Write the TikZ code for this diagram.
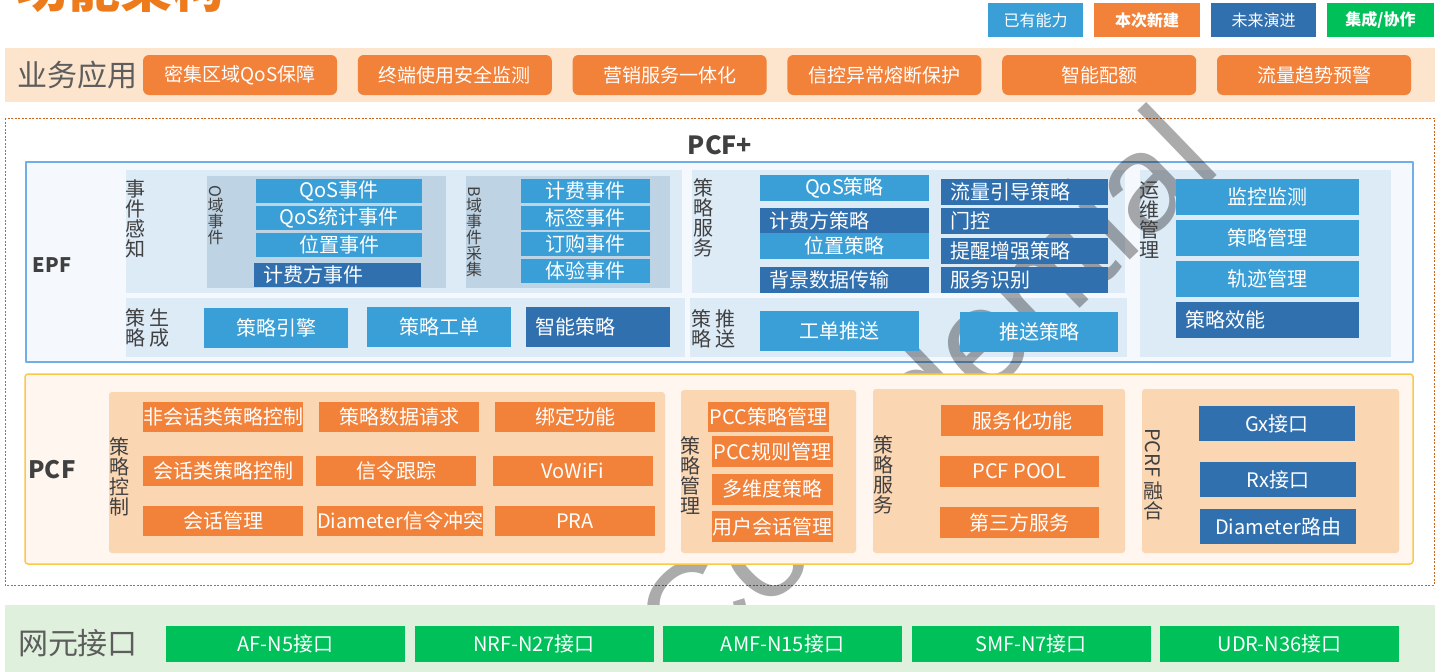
\documentclass[tikz,border=0pt]{standalone}
\usepackage{fontspec}
\usepackage{graphicx}
\setmainfont{Noto Sans CJK SC}
\newfontfamily\wmfont{Liberation Sans}
\newcommand\fs[1]{\fontsize{#1}{#1}\selectfont}
\definecolor{cLB}{HTML}{3A9FD6}
\definecolor{cDB}{HTML}{3170AF}
\definecolor{cOR}{HTML}{F2813A}
\definecolor{cGN}{HTML}{00C05A}
\definecolor{cBand}{HTML}{FCE4CD}
\definecolor{cPB}{HTML}{DDEBF7}
\definecolor{cSub}{HTML}{BED3E4}
\definecolor{cEPF}{HTML}{F5F9FD}
\definecolor{cEPFb}{HTML}{6FAEE6}
\definecolor{cPCF}{HTML}{FEF6EF}
\definecolor{cPCFb}{HTML}{FAC94A}
\definecolor{cPO}{HTML}{FBD6B3}
\definecolor{cGB}{HTML}{DFF1DC}
\definecolor{cTX}{HTML}{404040}
\definecolor{cTT}{HTML}{EE7B1B}
\definecolor{cDash}{HTML}{C8651B}
\begin{document}
\begin{tikzpicture}[x=1pt,y=-1pt,line join=round,
 bxbase/.style={inner sep=0pt,text=white,font=\fs{20}},
 bxlb/.style={bxbase,fill=cLB}, bxdb/.style={bxbase,fill=cDB},
 bxor/.style={bxbase,fill=cOR}, bxgn/.style={bxbase,fill=cGN},
 lbl/.style={inner sep=0pt,text=cTX,font=\fs{20},align=center},
 hd/.style={inner sep=0pt,text=cTX,font=\bfseries\fs{#1}}]
 \def\blk#1#2(#3,#4)(#5,#6)#7{\node[#2,minimum width={((#5)-(#3))*1pt},minimum height={((#6)-(#4))*1pt}] (#1) at ({((#3)+(#5))/2},{((#4)+(#6))/2}) {#7};}
 \def\blkl#1#2(#3,#4)(#5,#6)#7{\node[#2,align=left,inner xsep=9pt,text width={((#5)-(#3)-18)*1pt},minimum height={((#6)-(#4))*1pt}] (#1) at ({((#3)+(#5))/2},{((#4)+(#6))/2}) {#7};}
 \path[use as bounding box,fill=white] (0,0) rectangle (1444,672);
 \draw[cDash,dash pattern=on 2pt off 1.5pt,line width=.8pt] (5,118) rectangle (1434,585);
 % EPF frame and panels
 \draw[cEPFb,line width=1.5pt,fill=cEPF] (26,162) rectangle (1413,362);
 \fill[cPB] (126,170) rectangle (682,293);
 \fill[cPB] (126,298) rectangle (685,357);
 \fill[cPB] (692,170) rectangle (1125,293);
 \fill[cPB] (690,298) rectangle (1127,357);
 \fill[cPB] (1140,170) rectangle (1391,357);
 \fill[cSub] (207,176) rectangle (446,288);
 \fill[cSub] (466,176) rectangle (670,288);
 \node[rotate=44,anchor=base,inner sep=0pt,font=\wmfont\fs{140},text=black,opacity=.33] (wm) at (958,426) {Confidential};
 % title, legend, applications
 \node[anchor=base west,inner sep=0pt,text=cTT,font=\bfseries\fs{52}] (title) at (16,7) {功能架构};
 \blk{leg1}{bxlb,font=\fs{16}}(988,3)(1083,37){已有能力}
 \blk{leg2}{bxor,font=\bfseries\fs{16}}(1094,3)(1200,37){本次新建}
 \blk{leg3}{bxdb,font=\fs{16}}(1211,3)(1316,37){未来演进}
 \blk{leg4}{bxgn,font=\bfseries\fs{16}}(1327,3)(1434,37){集成/协作}
 \fill[cBand] (5,48) rectangle (1435,102);
 \node[inner sep=0pt,text=cTX!85,font=\fs{30}] (ywyy) at (77,75) {业务应用};
 \foreach \t [count=\i from 0] in {密集区域QoS保障,终端使用安全监测,营销服务一体化,信控异常熔断保护,智能配额,流量趋势预警}
  {\blk{app\i}{bxor,rounded corners=6pt,font=\fs{19}}({143+214.8*\i},55)({337+214.8*\i},95){\t}}
 % EPF
 \node[hd=25] (pcfplus) at (720,145) {PCF+};
 \node[hd=20] (epf) at (52,265) {EPF};
 \node[lbl] (sjgz) at (135,219) {事\\件\\感\\知};
 \node[lbl,font=\fs{16}] (oylbl) at (215.5,215) {\rotatebox{-90}{O}\\域\\事\\件};
 \node[lbl,font=\fs{16}] (bylbl) at (474,231.5) {\rotatebox{-90}{B}\\域\\事\\件\\采\\集};
 \foreach \t [count=\i from 0] in {QoS事件,QoS统计事件,位置事件}
  {\blk{oe\i}{bxlb}(256,{179+27*\i})(422,{203+27*\i}){\t}}
 \blkl{oe3}{bxdb}(254,263)(421,287){计费方事件}
 \foreach \t [count=\i from 0] in {计费事件,标签事件,订购事件,体验事件}
  {\blk{be\i}{bxlb}(521,{179+26.7*\i})(650,{203+26.7*\i}){\t}}
 \node[lbl,align=left] (clsc) at (147,327.5) {策\hspace{4pt}生\\略\hspace{4pt}成};
 \blk{yq}{bxlb}(204,308)(348,348){策略引擎}
 \blk{gd}{bxlb}(367,307)(511,347){策略工单}
 \blkl{zncl}{bxdb,inner xsep=10pt}(526,307)(670,347){智能策略}
 \node[lbl] (clfw) at (703,218) {策\\略\\服\\务};
 \blk{qoscl}{bxlb}(760,175)(929,201){QoS策略}
 \blkl{jfcl}{bxdb}(760,208)(929,233){计费方策略}
 \blk{wzcl}{bxlb}(760,233)(929,259){位置策略}
 \blkl{bjsj}{bxdb}(760,267)(929,293){背景数据传输}
 \foreach \t/\a/\b [count=\i] in {流量引导策略/179/205,门控/208/234,提醒增强策略/238/264,服务识别/267/293}
  {\blkl{fw\i}{bxdb}(941,\a)(1108,\b){\t}}
 \node[lbl,align=left] (clts) at (713,328.5) {策\hspace{4pt}推\\略\hspace{4pt}送};
 \blk{gdts}{bxlb}(760,311)(919,351){工单推送}
 \blk{tscl}{bxlb}(960,312)(1118,352){推送策略}
 \node[lbl] (ywgl) at (1149,220) {运\\维\\管\\理};
 \foreach \t [count=\i from 0] in {监控监测,策略管理,轨迹管理}
  {\blk{yw\i}{bxlb}(1176,{179+41*\i})(1359,{215+41*\i}){\t}}
 \blkl{yw3}{bxdb}(1176,302)(1359,338){策略效能}
 % PCF
 \draw[cPCFb,line width=1.5pt,fill=cPCF,rounded corners=3pt] (25,374) rectangle (1413,564);
 \fill[cPO,rounded corners=3pt] (109,392) rectangle (665,553);
 \fill[cPO,rounded corners=3pt] (681,390) rectangle (856,553);
 \fill[cPO,rounded corners=3pt] (873,389) rectangle (1125,553);
 \fill[cPO,rounded corners=3pt] (1142,389) rectangle (1399,553);
 \node[hd=24] (pcf) at (52,470) {PCF};
 \node[lbl] (clkz) at (119.5,477) {策\\略\\控\\制};
 \foreach \t/\x/\y [count=\i] in {非会话类策略控制/143/402,策略数据请求/319/402,绑定功能/495/402,会话类策略控制/143/456,信令跟踪/316/456,VoWiFi/493/456,会话管理/143/506,Diameter信令冲突/320/506,PRA/495/506}
  {\blk{kz\i}{bxor}(\x,\y)({\x+160},{\y+30}){\t}}
 \node[lbl] (clgl) at (690,476) {策\\略\\管\\理};
 \blk{gl0}{bxor}(708,402)(829,432){PCC策略管理}
 \foreach \t/\y [count=\i] in {PCC规则管理/436,多维度策略/473.5,用户会话管理/511}
  {\blk{gl\i}{bxor}(712,\y)(833,{\y+31}){\t}}
 \node[lbl] (clfw2) at (883,475) {策\\略\\服\\务};
 \blk{fwh}{bxor}(941,405)(1103,436){服务化功能}
 \blk{pool}{bxor}(940,456)(1099,487){PCF POOL}
 \blk{dsf}{bxor}(940,507)(1099,538){第三方服务}
 \node[lbl] (pcrf) at (1153,474) {\rotatebox{-90}{PCRF}\\[3pt]融\\合};
 \blk{gx}{bxdb}(1199,406)(1355,441){Gx接口}
 \blk{rx}{bxdb}(1200,462)(1356,497){Rx接口}
 \blk{dia}{bxdb}(1200,509)(1356,544){Diameter路由}
 % network interfaces
 \fill[cGB] (5,605) rectangle (1435,672);
 \node[inner sep=0pt,text=cTX!85,font=\fs{30}] (wyjk) at (78,643) {网元接口};
 \foreach \t [count=\i from 0] in {AF-N5接口,NRF-N27接口,AMF-N15接口,SMF-N7接口,UDR-N36接口}
  {\blk{nf\i}{bxgn}({166+248.5*\i},626)({405+248.5*\i},662){\t}}
\end{tikzpicture}
\end{document}
